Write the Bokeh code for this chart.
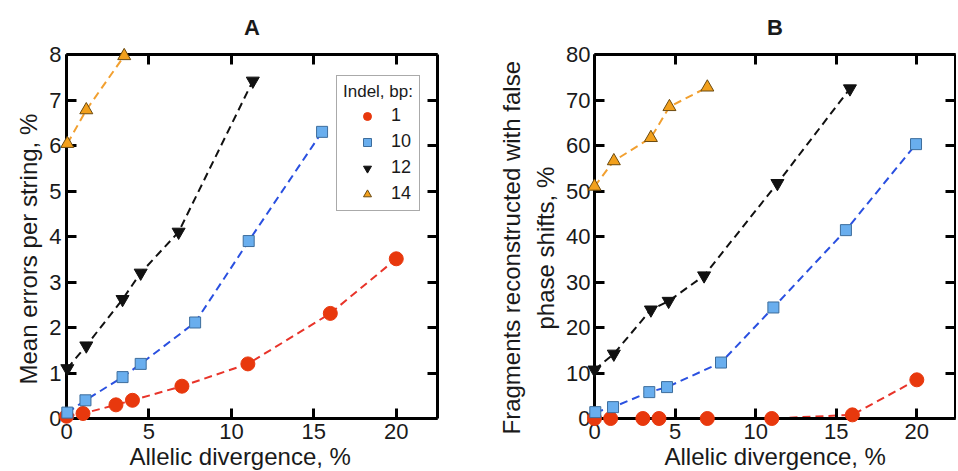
from bokeh.plotting import figure
from bokeh.models import LinearAxis, Range1d, Legend, LegendItem, FixedTicker, ColumnDataSource, Title
from bokeh.layouts import row
from bokeh.embed import file_html
from bokeh.resources import INLINE

# ---------------- data ----------------
x_ticks = [0, 5, 10, 15, 20]
a_y_ticks = [0, 1, 2, 3, 4, 5, 6, 7, 8]
b_y_ticks = [0, 10, 20, 30, 40, 50, 60, 70, 80]
series_names = ["1", "10", "12", "14"]

# Panel A: mean errors per string, %
a_x1 = [0, 1, 3, 4, 7, 11, 16, 20]
a_y1 = [0.05, 0.11, 0.30, 0.40, 0.71, 1.20, 2.31, 3.51]
a_x10 = [0.05, 1.15, 3.4, 4.5, 7.8, 11.05, 15.5]
a_y10 = [0.13, 0.40, 0.91, 1.20, 2.11, 3.90, 6.30]
a_x12 = [0.05, 1.2, 3.4, 4.5, 6.8, 11.3]
a_y12 = [1.10, 1.60, 2.62, 3.20, 4.10, 7.42]
a_x14 = [0.05, 1.2, 3.5]
a_y14 = [6.04, 6.78, 7.97]

# Panel B: fragments reconstructed with false phase shifts, %
b_x1 = [0, 1, 3, 4, 7, 11, 16, 20]
b_y1 = [0, 0, 0, 0, 0, 0, 0.8, 8.5]
b_x10 = [0.05, 1.15, 3.4, 4.5, 7.85, 11.1, 15.6, 19.95]
b_y10 = [1.4, 2.5, 5.8, 6.9, 12.3, 24.4, 41.4, 60.3]
b_x12 = [0.0, 1.2, 3.5, 4.6, 6.8, 11.35, 15.85]
b_y12 = [10.7, 14.2, 23.9, 25.8, 31.4, 51.7, 72.5]
b_x14 = [0.0, 1.2, 3.5, 4.65, 7.0]
b_y14 = [51.0, 56.6, 61.7, 68.5, 72.8]

x_label = "Allelic divergence, %"
a_y_label = ["Mean errors per string, %"]
b_y_label = ["Fragments reconstructed with false", "phase shifts, %"]

FONT = "Liberation Sans"
TXT = "#1a1a1a"

styles = {
    "1":  dict(marker="circle", size=14, fill="#e8380d", line="#e8380d", lc="#e8342a"),
    "10": dict(marker="square", size=11, fill="#69aeee", line="#3d6d9c", lc="#2a50e0"),
    "12": dict(marker="inverted_triangle", size=13, fill="#111111", line="#111111", lc="#111111"),
    "14": dict(marker="triangle", size=13, fill="#f2a01c", line="#6b4a10", lc="#f2a030"),
}

H = 470


def label_title(text, offset, standoff, valign="bottom"):
    t = Title(text=text, align="left", offset=offset, standoff=standoff, vertical_align=valign)
    t.text_font = FONT
    t.text_font_size = "24px"
    t.text_font_style = "normal"
    t.text_color = TXT
    return t


def make_fig(title, width, left, right, xmax, ymax, yticks, ylabel_lines, ylab_standoffs,
             ylab_offsets, xlab_offset):
    p = figure(width=width, height=H, x_range=Range1d(0, xmax), y_range=Range1d(0, ymax),
               output_backend="svg", toolbar_location=None,
               min_border_left=left, min_border_right=right,
               min_border_top=53, min_border_bottom=52, title=title)
    p.title.text_font = FONT
    p.title.text_font_size = "22px"
    p.title.text_font_style = "bold"
    p.title.align = "center"
    p.title.vertical_align = "middle"
    p.title.standoff = 27
    p.title.text_color = TXT
    p.grid.visible = False
    p.outline_line_color = None
    p.background_fill_color = "white"
    p.border_fill_color = "white"
    p.add_layout(LinearAxis(), "above")
    p.add_layout(LinearAxis(), "right")
    for ax in p.xaxis:
        ax.ticker = FixedTicker(ticks=x_ticks)
    for ax in p.yaxis:
        ax.ticker = FixedTicker(ticks=yticks)
    for ax in p.axis:
        ax.axis_line_width = 3
        ax.axis_line_color = "black"
        ax.major_tick_in = 10
        ax.major_tick_out = 0
        ax.minor_tick_in = 0
        ax.minor_tick_out = 0
        ax.major_tick_line_width = 3
        ax.major_tick_line_color = "black"
        ax.major_label_text_font = FONT
        ax.major_label_text_font_size = "22px"
        ax.major_label_text_color = TXT
    # mirrored axes: ticks only, no labels
    p.above[-1].major_label_overrides = {t: "" for t in x_ticks}
    p.right[-1].major_label_overrides = {t: "" for t in yticks}
    for ax in (p.above[-1], p.right[-1]):
        ax.major_label_standoff = 0
        ax.major_label_text_font_size = "8px"
    p.xaxis[0].major_label_standoff = 4
    p.yaxis[0].major_label_standoff = 5
    # axis titles (inner line first, stacked outward)
    for text, so, off in zip(reversed(ylabel_lines), reversed(ylab_standoffs), reversed(ylab_offsets)):
        p.add_layout(label_title(text, off, so), "left")
    p.add_layout(label_title(x_label, xlab_offset, 0, "middle"), "below")
    return p


def draw(p, data):
    rs = []
    for name, (xs, ys) in zip(series_names, data):
        st = styles[name]
        src = ColumnDataSource(dict(x=xs, y=ys))
        p.line("x", "y", source=src, line_color=st["lc"], line_width=2, line_dash="8 5")
        r = p.scatter("x", "y", source=src, marker=st["marker"], size=st["size"],
                      fill_color=st["fill"], line_color=st["line"], line_width=1, level="overlay")
        rs.append(r)
    return rs


# Panel A
pa = make_fig("A", 480, 66, 43, 22.5, 8, a_y_ticks, a_y_label, [10], [34], 63)
ra = draw(pa, [(a_x1, a_y1), (a_x10, a_y10), (a_x12, a_y12), (a_x14, a_y14)])

items = [LegendItem(label=name, renderers=[r]) for name, r in zip(series_names, ra)]
legend = Legend(items=items, title="Indel, bp:", location=(270, 207))
legend.title_text_font = FONT
legend.title_text_font_size = "17px"
legend.title_text_font_style = "normal"
legend.title_text_color = TXT
legend.title_standoff = 3
legend.label_text_font = FONT
legend.label_text_font_size = "18px"
legend.label_text_color = TXT
legend.padding = 6
legend.spacing = 5
legend.glyph_width = 48
legend.glyph_height = 20
legend.label_height = 20
legend.label_standoff = 0
legend.margin = 0
legend.border_line_color = "#555555"
legend.border_line_width = 1.5
legend.background_fill_color = "white"
pa.add_layout(legend)

# Panel B
pb = make_fig("B", 476, 114, 1, 22.4, 80, b_y_ticks, b_y_label, [0, 10], [-16, 89], 70)
pb.yaxis[0].major_label_standoff = 4
draw(pb, [(b_x1, b_y1), (b_x10, b_y10), (b_x12, b_y12), (b_x14, b_y14)])

layout = row(pa, pb)
open("out.html", "w").write(file_html(layout, INLINE))
